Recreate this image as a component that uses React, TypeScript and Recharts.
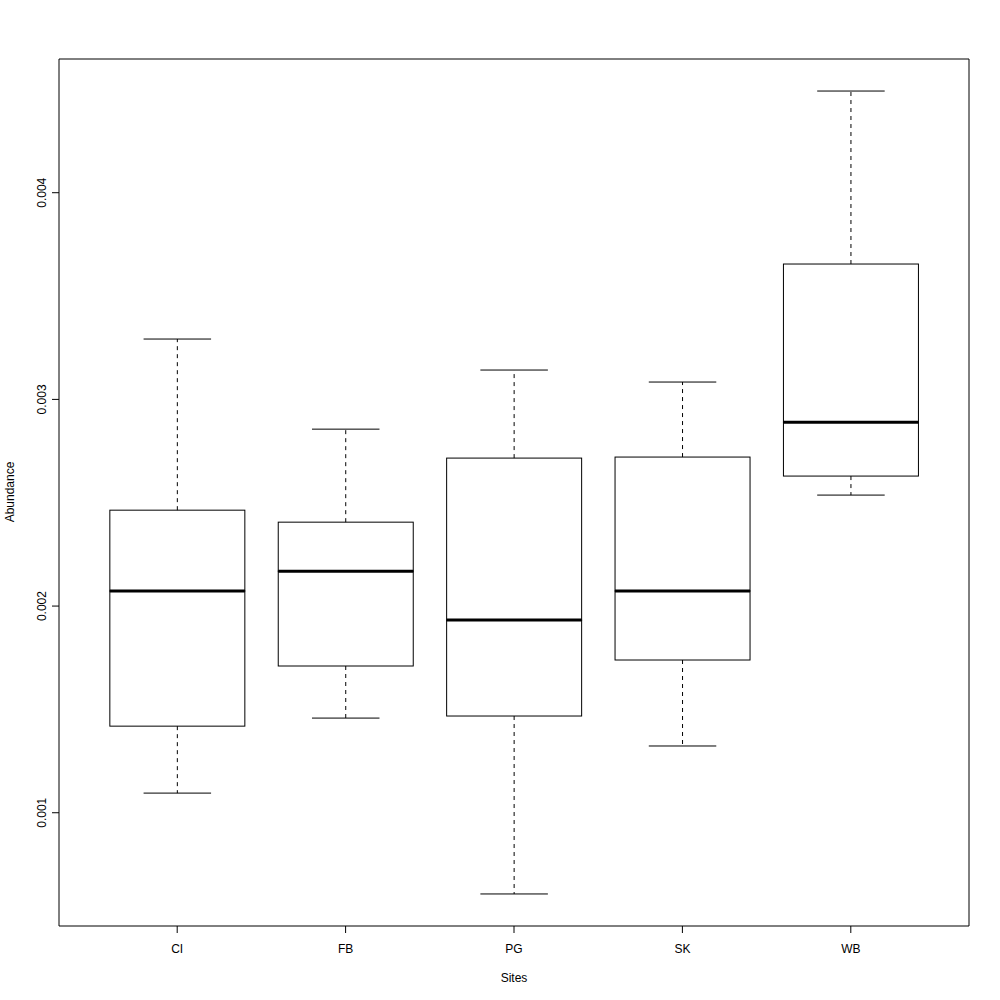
import React from "react";
import { ComposedChart, Bar, XAxis, YAxis } from "recharts";

// five-number summaries
const sites = ["CI", "FB", "PG", "SK", "WB"];
const mins = [0.001095, 0.001458, 0.000607, 0.001323, 0.002537];
const q1s = [0.001419, 0.00171, 0.001468, 0.001739, 0.002629];
const medians = [0.002073, 0.002169, 0.001932, 0.002073, 0.00289];
const q3s = [0.002464, 0.002406, 0.002716, 0.002721, 0.003655];
const maxs = [0.003292, 0.002856, 0.003142, 0.003084, 0.004492];

const yTicks = [0.001, 0.002, 0.003, 0.004];
const yDomain = [0.000452, 0.004647];

const FONT = '"Liberation Sans", Arial, Helvetica, sans-serif';

// stacked segments: base (hidden), lower whisker, lower box, upper box, upper whisker
const data = sites.map((site, i) => ({
  site,
  base: mins[i],
  lowWhisker: q1s[i] - mins[i],
  lowBox: medians[i] - q1s[i],
  highBox: q3s[i] - medians[i],
  highWhisker: maxs[i] - q3s[i],
}));

const Nothing = () => null;

const LowWhisker = (p: any) => {
  const cx = p.x + p.width / 2;
  const bottom = p.y + p.height;
  return (
    <g>
      <line x1={cx} x2={cx} y1={p.y} y2={bottom} stroke="#000" strokeDasharray="4 4" />
      <line x1={cx - p.width / 4} x2={cx + p.width / 4} y1={bottom} y2={bottom} stroke="#000" />
    </g>
  );
};

const HighWhisker = (p: any) => {
  const cx = p.x + p.width / 2;
  return (
    <g>
      <line x1={cx} x2={cx} y1={p.y + p.height} y2={p.y} stroke="#000" strokeDasharray="4 4" />
      <line x1={cx - p.width / 4} x2={cx + p.width / 4} y1={p.y} y2={p.y} stroke="#000" />
    </g>
  );
};

const BoxPart = (p: any) => (
  <rect x={p.x} y={p.y} width={p.width} height={p.height} fill="none" stroke="#000" />
);

// upper half of the box also carries the thick median line at its bottom edge
const UpperBox = (p: any) => (
  <g>
    <rect x={p.x} y={p.y} width={p.width} height={p.height} fill="none" stroke="#000" />
    <line x1={p.x} x2={p.x + p.width} y1={p.y + p.height} y2={p.y + p.height} stroke="#000" strokeWidth={3} />
  </g>
);

const YTick = ({ y, payload }: any) => (
  <text
    x={46}
    y={y}
    transform={`rotate(-90, 46, ${y})`}
    textAnchor="middle"
    fontSize={12}
    fontFamily={FONT}
    fill="#000"
  >
    {String(payload.value)}
  </text>
);

const XTick = ({ x, payload }: any) => (
  <text x={x} y={953} textAnchor="middle" fontSize={12} fontFamily={FONT} fill="#000">
    {payload.value}
  </text>
);

export default function App() {
  return (
    <div style={{ position: "absolute", left: 0, top: 0, background: "#fff" }}>
      <ComposedChart
        width={1000}
        height={1000}
        data={data}
        margin={{ top: 58, right: 30, bottom: 0, left: 0 }}
        barCategoryGap="10%"
        barGap={0}
      >
        <XAxis
          dataKey="site"
          height={74}
          padding={{ left: 34, right: 34 }}
          tickSize={7}
          tick={<XTick />}
          axisLine={{ stroke: "#000" }}
          tickLine={{ stroke: "#000" }}
          label={{
            content: () => (
              <text x={514} y={982} textAnchor="middle" fontSize={12} fontFamily={FONT} fill="#000">
                Sites
              </text>
            ),
          }}
        />
        <XAxis xAxisId="top" orientation="top" dataKey="site" height={1} tick={false} tickLine={false} axisLine={{ stroke: "#000" }} />
        <YAxis
          type="number"
          width={59}
          domain={yDomain}
          allowDataOverflow
          ticks={yTicks}
          tickSize={7}
          tick={<YTick />}
          axisLine={{ stroke: "#000" }}
          tickLine={{ stroke: "#000" }}
          label={{
            content: () => (
              <text
                x={14}
                y={492}
                transform="rotate(-90, 14, 492)"
                textAnchor="middle"
                fontSize={12}
                fontFamily={FONT}
                fill="#000"
              >
                Abundance
              </text>
            ),
          }}
        />
        <YAxis yAxisId="right" orientation="right" width={1} tick={false} tickLine={false} axisLine={{ stroke: "#000" }} />
        <Bar dataKey="base" stackId="box" shape={<Nothing />} isAnimationActive={false} />
        <Bar dataKey="lowWhisker" stackId="box" shape={<LowWhisker />} isAnimationActive={false} />
        <Bar dataKey="lowBox" stackId="box" shape={<BoxPart />} isAnimationActive={false} />
        <Bar dataKey="highBox" stackId="box" shape={<UpperBox />} isAnimationActive={false} />
        <Bar dataKey="highWhisker" stackId="box" shape={<HighWhisker />} isAnimationActive={false} />
      </ComposedChart>
    </div>
  );
}
